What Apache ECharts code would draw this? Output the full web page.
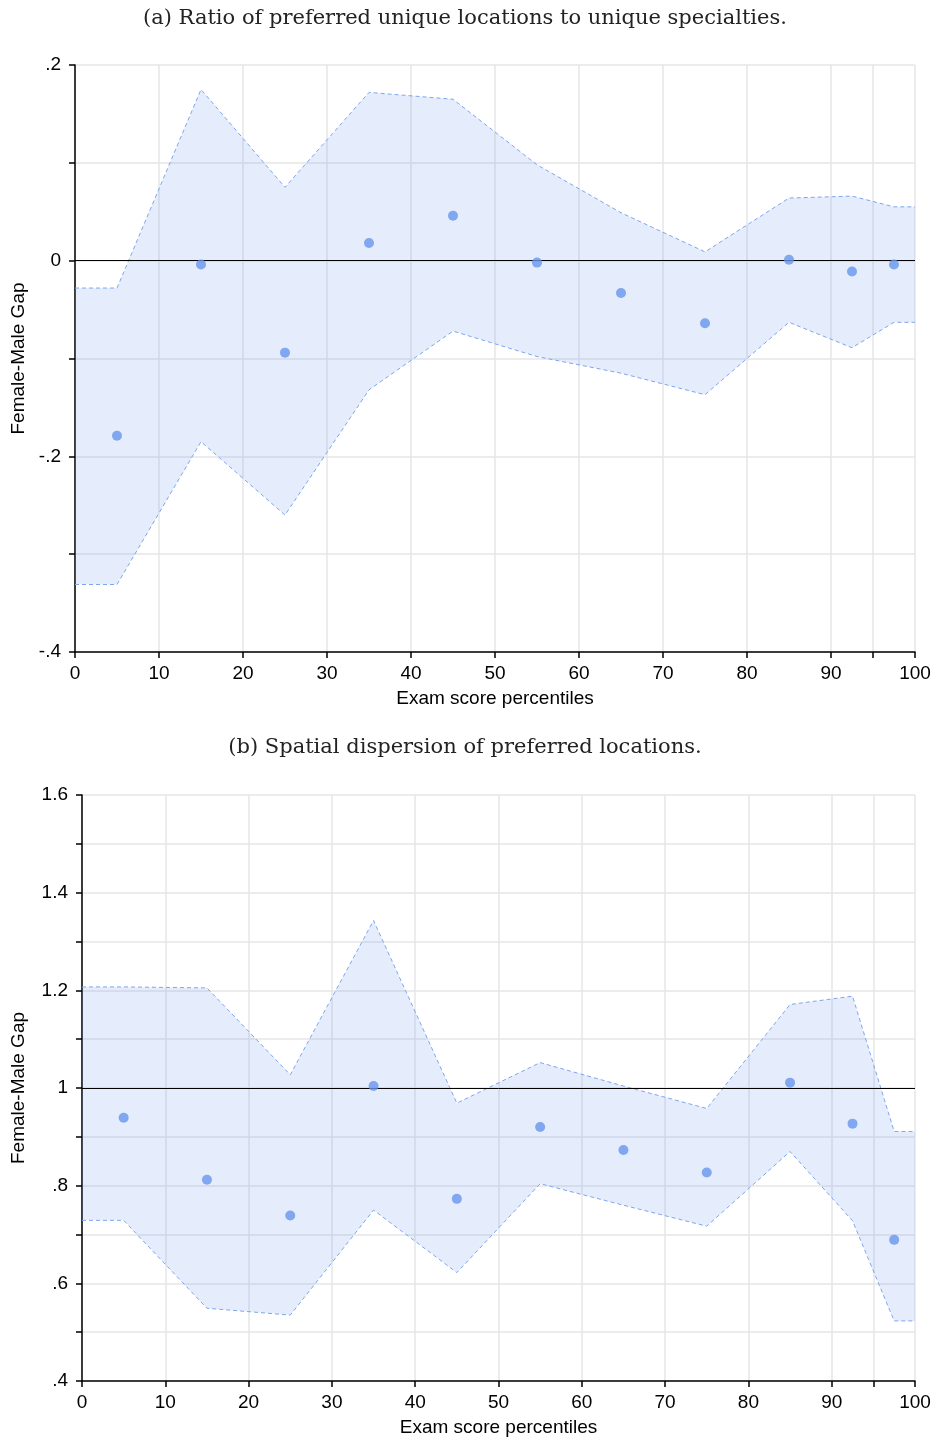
<!DOCTYPE html>
<html>
<head>
<meta charset="utf-8">
<script src="https://cdn.jsdelivr.net/npm/echarts@6/dist/echarts.min.js"></script>
<style>
  html, body { margin: 0; padding: 0; background: #fff; }
  #chart { width: 936px; height: 1439px; }
</style>
</head>
<body>
<div id="chart"></div>
<script>
// ---- Data ----
const titleA = '(a) Ratio of preferred unique locations to unique specialties.';
const titleB = '(b) Spatial dispersion of preferred locations.';
const xName = 'Exam score percentiles';
const yName = 'Female-Male Gap';

const boundX = [0, 5, 15, 25, 35, 45, 55, 65, 75, 85, 92.5, 97.5, 100];
const pointX = [5, 15, 25, 35, 45, 55, 65, 75, 85, 92.5, 97.5];

const pointsA = [-0.179, -0.004, -0.094, 0.018, 0.046, -0.002, -0.033, -0.064, 0.001, -0.011, -0.004];
const upperA  = [-0.028, -0.028, 0.175, 0.075, 0.172, 0.165, 0.098, 0.049, 0.009, 0.064, 0.066, 0.055, 0.055];
const lowerA  = [-0.331, -0.331, -0.185, -0.260, -0.132, -0.072, -0.098, -0.115, -0.137, -0.063, -0.089, -0.063, -0.063];

const pointsB = [0.939, 0.812, 0.739, 1.004, 0.773, 0.920, 0.873, 0.827, 1.011, 0.927, 0.689];
const upperB  = [1.207, 1.207, 1.205, 1.027, 1.343, 0.969, 1.052, 1.004, 0.958, 1.171, 1.188, 0.911, 0.911];
const lowerB  = [0.729, 0.729, 0.549, 0.535, 0.750, 0.622, 0.804, 0.760, 0.717, 0.870, 0.728, 0.523, 0.523];

const xTickValues  = [0, 10, 20, 30, 40, 50, 60, 70, 80, 90, 95, 100];
const xLabelValues = [0, 10, 20, 30, 40, 50, 60, 70, 80, 90, 100];

const refA = 0;
const refB = 1;

// ---- Styles ----
const sans = 'Liberation Sans';
const serif = 'DejaVu Serif';
const bandLine = '#7ea6ee';
const bandFill = 'rgba(100,149,237,0.17)';
const dotColor = '#6795ec';

function fmtY(v) {
  const k = Math.round(v * 10);
  if (k % 2 !== 0) return '';
  let s = String(k / 10);
  s = s.replace(/^(-?)0\./, '$1.');
  return s;
}

function xAxis(gi) {
  return {
    type: 'value', gridIndex: gi, min: 0, max: 100, interval: 10,
    name: xName, nameLocation: 'middle', nameGap: 37,
    nameTextStyle: { fontFamily: sans, fontSize: 19, color: '#000' },
    axisLine: { show: true, onZero: false, lineStyle: { color: '#000', width: 1.5 } },
    axisTick: { show: true, length: 6, customValues: xTickValues, lineStyle: { color: '#000', width: 1.5 } },
    axisLabel: { customValues: xLabelValues, fontFamily: sans, fontSize: 19, color: '#000', margin: 12 },
    splitLine: { show: true, lineStyle: { color: '#e6e6e6', width: 1.5 } }
  };
}

function yAxis(gi, min, max, gap) {
  return {
    type: 'value', gridIndex: gi, min: min, max: max, interval: 0.1,
    name: yName, nameLocation: 'middle', nameGap: gap,
    nameTextStyle: { fontFamily: sans, fontSize: 19, color: '#000' },
    axisLine: { show: true, onZero: false, lineStyle: { color: '#000', width: 1.5 } },
    axisTick: { show: true, length: 6, lineStyle: { color: '#000', width: 1.5 } },
    axisLabel: { formatter: fmtY, fontFamily: sans, fontSize: 19, color: '#000', margin: 14 },
    splitLine: { show: true, lineStyle: { color: '#e6e6e6', width: 1.5 } }
  };
}

function pairs(xs, ys) { return xs.map((x, i) => [x, ys[i]]); }

function bandSeries(gi, up, lo) {
  return [
    {
      type: 'custom', xAxisIndex: gi, yAxisIndex: gi, z: 1, silent: true,
      data: boundX.map((x, i) => [x, lo[i], up[i]]),
      encode: { x: 0, y: [1, 2] },
      renderItem: function (params, api) {
        if (params.dataIndex !== 0) return null;
        const top = boundX.map((x, i) => api.coord([x, up[i]]));
        const bot = boundX.map((x, i) => api.coord([x, lo[i]])).reverse();
        return {
          type: 'polygon',
          shape: { points: top.concat(bot) },
          style: { fill: bandFill, stroke: null }
        };
      }
    },
    {
      type: 'line', xAxisIndex: gi, yAxisIndex: gi, z: 2, silent: true,
      data: pairs(boundX, up), symbol: 'none',
      lineStyle: { color: bandLine, width: 1, type: [4, 3] }
    },
    {
      type: 'line', xAxisIndex: gi, yAxisIndex: gi, z: 2, silent: true,
      data: pairs(boundX, lo), symbol: 'none',
      lineStyle: { color: bandLine, width: 1, type: [4, 3] }
    }
  ];
}

function pointSeries(gi, ys, ref) {
  return {
    type: 'scatter', xAxisIndex: gi, yAxisIndex: gi, z: 5,
    data: pairs(pointX, ys), symbol: 'circle', symbolSize: 10,
    itemStyle: { color: dotColor },
    markLine: {
      silent: true, symbol: ['none', 'none'], label: { show: false },
      lineStyle: { color: '#000', width: 1, type: 'solid' },
      data: [{ yAxis: ref }]
    }
  };
}

const chart = echarts.init(document.getElementById('chart'), null, { renderer: 'canvas' });
chart.setOption({
  animation: false,
  backgroundColor: '#fff',
  title: [
    { text: titleA, left: 460, top: 3, textAlign: 'center',
      textStyle: { fontFamily: serif, fontSize: 21, fontWeight: 'normal', color: '#222' } },
    { text: titleB, left: 460, top: 732, textAlign: 'center',
      textStyle: { fontFamily: serif, fontSize: 21, fontWeight: 'normal', color: '#222' } }
  ],
  grid: [
    { left: 75, right: 21, top: 65, height: 587 },
    { left: 82, right: 21, top: 795, height: 586 }
  ],
  xAxis: [xAxis(0), xAxis(1)],
  yAxis: [yAxis(0, -0.4, 0.2, 47), yAxis(1, 0.4, 1.6, 54)],
  series: [
    ...bandSeries(0, upperA, lowerA),
    pointSeries(0, pointsA, refA),
    ...bandSeries(1, upperB, lowerB),
    pointSeries(1, pointsB, refB)
  ]
});
</script>
</body>
</html>
